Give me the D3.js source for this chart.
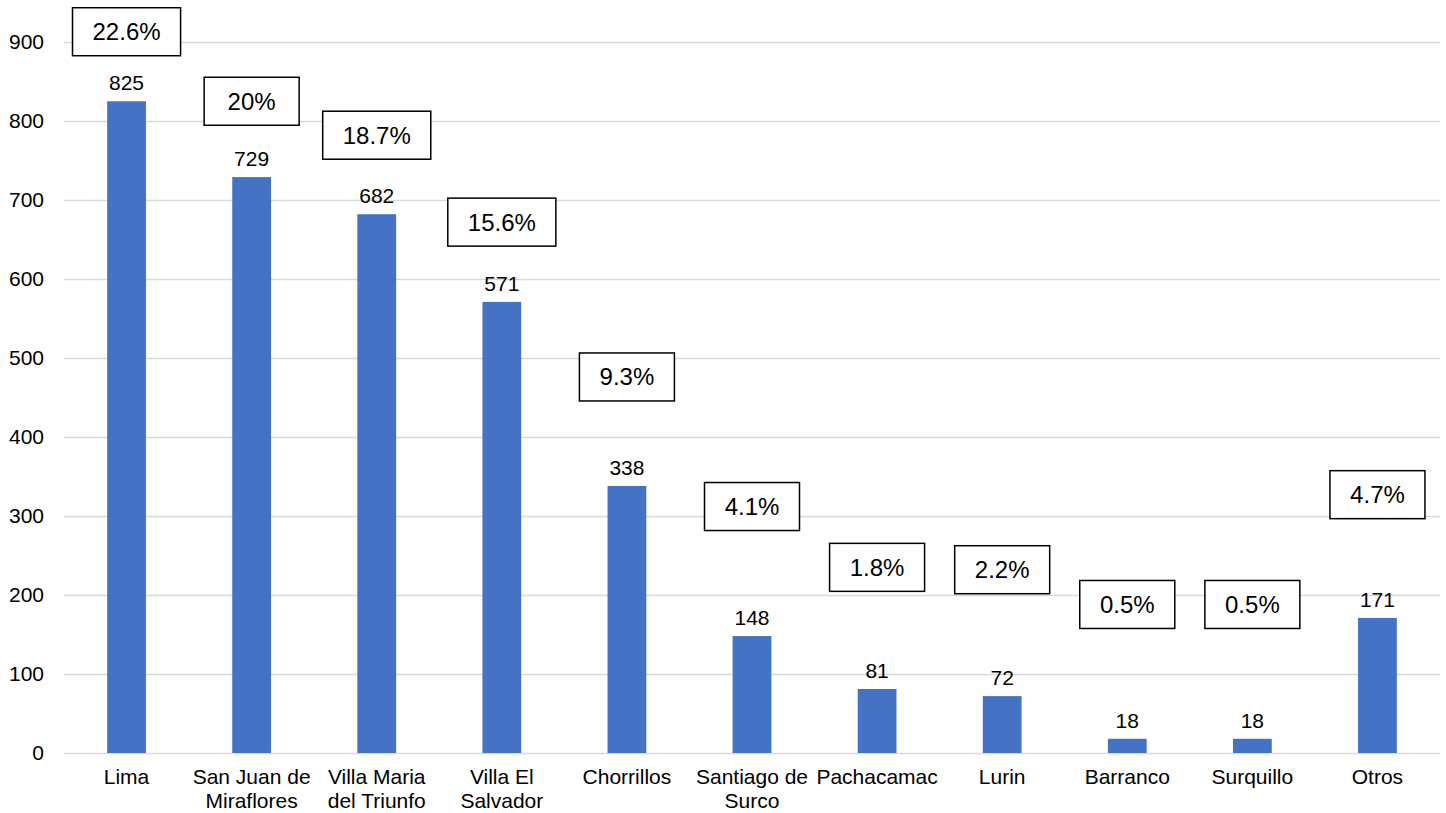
<!DOCTYPE html>
<html>
<head>
<meta charset="utf-8">
<script src="https://cdn.jsdelivr.net/npm/d3@7"></script>
<style>
  html, body { margin: 0; padding: 0; background: #fff; }
  svg text { font-family: Arial, "Liberation Sans", sans-serif; fill: #000; }
</style>
</head>
<body>
<svg id="chart" width="1446" height="813"></svg>
<script>
// Districts and counts
const categories = ["Lima", "San Juan de Miraflores", "Villa Maria del Triunfo", "Villa El Salvador",
  "Chorrillos", "Santiago de Surco", "Pachacamac", "Lurin", "Barranco", "Surquillo", "Otros"];
const counts = [825, 729, 682, 571, 338, 148, 81, 72, 18, 18, 171];
// Share of total shown in the callout boxes
const shares = ["22.6%", "20%", "18.7%", "15.6%", "9.3%", "4.1%", "1.8%", "2.2%", "0.5%", "0.5%", "4.7%"];
// Level (in axis units) at which each callout box is centred
const shareLevels = [913, 825, 782, 672, 476, 312, 235, 232, 188, 188, 327];
const yTicks = [0, 100, 200, 300, 400, 500, 600, 700, 800, 900];

const svg = d3.select("#chart");
const margin = { left: 64, right: 6, top: 42, bottom: 60 };
const W = 1446, H = 813;

const x = d3.scaleBand()
  .domain(categories)
  .range([margin.left, W - margin.right])
  .paddingInner(0.69)
  .paddingOuter(0.345);

const y = d3.scaleLinear()
  .domain([0, 900])
  .range([H - margin.bottom, margin.top]);

// Horizontal gridlines
const yAxis = d3.axisLeft(y).tickValues(yTicks).tickSize(-(W - margin.right - margin.left)).tickPadding(20);
const gy = svg.append("g").attr("transform", `translate(${margin.left},0)`).call(yAxis);
gy.select(".domain").remove();
gy.selectAll(".tick line").attr("stroke", "#d9d9d9").attr("stroke-width", 1.3);
gy.selectAll(".tick text").attr("font-size", 21).attr("fill", "#000");

// Bars
svg.append("g").selectAll("rect").data(categories).join("rect")
  .attr("x", d => x(d))
  .attr("width", x.bandwidth())
  .attr("y", (d, i) => y(counts[i]))
  .attr("height", (d, i) => y(0) - y(counts[i]))
  .attr("fill", "#4472C4");

// Value labels
svg.append("g").selectAll("text").data(categories).join("text")
  .attr("x", d => x(d) + x.bandwidth() / 2)
  .attr("y", (d, i) => y(counts[i]) - 11)
  .attr("text-anchor", "middle")
  .attr("font-size", 21)
  .text((d, i) => counts[i]);

// Category axis with wrapped labels
const xAxis = d3.axisBottom(x).tickSize(0).tickPadding(0);
const gx = svg.append("g").attr("transform", `translate(0,${y(0)})`).call(xAxis);
gx.select(".domain").remove();
gx.selectAll(".tick text").attr("font-size", 21).attr("fill", "#000").attr("dy", null).attr("y", 0)
  .each(function (d) {
    const t = d3.select(this);
    const words = d.split(" ");
    const maxW = x.step() - 4;
    t.text(null);
    let lines = [], cur = [];
    const probe = t.append("tspan");
    words.forEach(w => {
      const trial = cur.concat([w]).join(" ");
      probe.text(trial);
      if (probe.node().getComputedTextLength() > maxW && cur.length) {
        lines.push(cur.join(" "));
        cur = [w];
      } else {
        cur.push(w);
      }
    });
    lines.push(cur.join(" "));
    probe.remove();
    lines.forEach((ln, k) => {
      t.append("tspan").attr("x", 0).attr("y", 31 + k * 24).text(ln);
    });
  });

// Share callout boxes
const boxes = svg.append("g").selectAll("g").data(categories).join("g")
  .attr("transform", (d, i) => `translate(${x(d) + x.bandwidth() / 2},${y(shareLevels[i])})`);
boxes.each(function (d, i) {
  const g = d3.select(this);
  const txt = g.append("text")
    .attr("text-anchor", "middle")
    .attr("dy", "0.35em")
    .attr("font-size", 24)
    .text(shares[i]);
  const tw = txt.node().getComputedTextLength();
  const bw = Math.max(95, tw + 40), bh = 48;
  g.insert("rect", "text")
    .attr("x", -bw / 2).attr("y", -bh / 2)
    .attr("width", bw).attr("height", bh)
    .attr("fill", "#fff")
    .attr("stroke", "#000")
    .attr("stroke-width", 1.5);
});
</script>
</body>
</html>
